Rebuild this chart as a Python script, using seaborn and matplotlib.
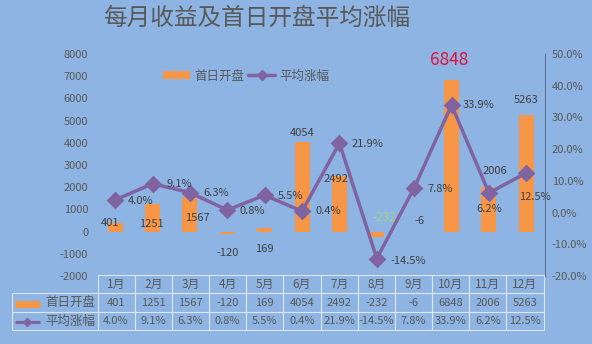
import matplotlib
matplotlib.use('Agg')
import matplotlib.pyplot as plt
import seaborn as sns
import pandas as pd
from matplotlib.lines import Line2D
from matplotlib.patches import Patch
from matplotlib.ticker import FuncFormatter, MultipleLocator

# ---------------- data ----------------
title = '每月收益及首日开盘平均涨幅'
months = ['1月', '2月', '3月', '4月', '5月', '6月', '7月', '8月', '9月', '10月', '11月', '12月']
first_day_open = [401, 1251, 1567, -120, 169, 4054, 2492, -232, -6, 6848, 2006, 5263]
avg_gain = [4.0, 9.1, 6.3, 0.8, 5.5, 0.4, 21.9, -14.5, 7.8, 33.9, 6.2, 12.5]
bar_name = '首日开盘'
line_name = '平均涨幅'

# label offsets (pixels) relative to each mark
bar_label_off = [(-5, 0), (-1, -20), (7, -21), (0, -19), (0, -21), (0, 9),
                 (-3, -3), (8, 19), (5, 11), (-2, 20), (6, 16), (0, 15)]
line_label_off = [(25, -1), (27, 0), (26, 0), (25, -1), (26, -1), (26, 0),
                  (28, -1), (31, -2), (26, -1), (27, 0), (0, -16), (9, -24)]

df = pd.DataFrame({'month': months, 'open': first_day_open, 'gain': avg_gain})

BG = '#8DB4E2'
ORANGE = '#F79646'
PURPLE = '#8064A2'
TXT = '#595959'
LBL = '#404040'
EDGE = '#DCE6F2'

sns.set_theme(style='white')
plt.rcParams['font.family'] = ['Noto Sans CJK SC', 'DejaVu Sans']
plt.rcParams['axes.unicode_minus'] = False

fig = plt.figure(figsize=(5.92, 3.44), dpi=100, facecolor=BG)
W, H = 592, 344
ax = fig.add_axes([96.5 / W, 1 - 276 / H, 448.5 / W, 222 / H])
ax.set_facecolor('none')

sns.barplot(data=df, x='month', y='open', color=ORANGE, width=0.4,
            saturation=1, errorbar=None, linewidth=0, ax=ax)
ax2 = ax.twinx()
sns.pointplot(data=df, x='month', y='gain', color=PURPLE, markers='D',
              linewidth=2.5, markersize=7, errorbar=None, ax=ax2)

ax.set_ylim(-2000, 8000)
ax2.set_ylim(-20, 50)
ax.set_xlim(-0.5, 11.5)
ax2.set_xlim(-0.5, 11.5)

ax.yaxis.set_major_locator(MultipleLocator(1000))
ax2.yaxis.set_major_locator(MultipleLocator(10))
ax2.yaxis.set_major_formatter(FuncFormatter(lambda v, p: f'{v:.1f}%'))
ax.tick_params(axis='y', length=0, pad=6, labelsize=8, labelcolor=TXT)
ax2.tick_params(axis='y', length=0, pad=5, labelsize=8, labelcolor=TXT)
ax.tick_params(axis='x', length=0, labelbottom=False)
ax2.tick_params(axis='x', length=0, labelbottom=False)
for a in (ax, ax2):
    a.set_xlabel('')
    a.set_ylabel('')
    a.grid(False)
    for s in a.spines.values():
        s.set_visible(False)
ax2.spines['right'].set_visible(True)
ax2.spines['right'].set_color('#5E7697')
ax2.spines['right'].set_linewidth(0.8)

# bar labels
for i, v in enumerate(first_day_open):
    kw = dict(fontsize=8, color=LBL)
    if v == max(first_day_open):
        kw = dict(fontsize=12.5, color='#E0103C')
    elif i == 7:
        kw = dict(fontsize=8.5, color='#A6DC6E', alpha=0.8)
    ax.annotate(str(v), (i, v), xytext=bar_label_off[i], textcoords='offset pixels',
                ha='center', va='center', **kw)

# line labels
for i, v in enumerate(avg_gain):
    ax2.annotate(f'{v:.1f}%', (i, v), xytext=line_label_off[i], textcoords='offset pixels',
                 ha='center', va='center', fontsize=8, color=LBL)

# data table (bbox covers the month columns; the row-label column sits to its left)
cell_text = [[str(v) for v in first_day_open],
             [f'{v:.1f}%' for v in avg_gain]]
tab = ax.table(cellText=cell_text, rowLabels=[bar_name, line_name], colLabels=months,
               colWidths=[1 / 12] * 12, cellLoc='center',
               rowLoc='right', colLoc='center',
               bbox=[(98 - 96.5) / 448.5, -0.245, (544 - 98) / 448.5, 0.25])
tab._autoColumns = []
tab.auto_set_font_size(False)
tab.set_fontsize(8)
for (r, j), c in tab.get_celld().items():
    c.set_facecolor('none')
    c.set_edgecolor(EDGE)
    c.set_linewidth(0.8)
    c.get_text().set_color(TXT)
    if r == 0:
        c.get_text().set_fontsize(8.5)
    if j == -1:
        c.set_width(86 / 446)
        c.PAD = 0.03
        c.get_text().set_fontsize(9)

# legend keys inside the table
kx = [(15 - 96.5) / 448.5, (40 - 96.5) / 448.5]
ax.add_line(Line2D(kx, [-(304 - 276) / 222] * 2, transform=ax.transAxes, color=ORANGE,
                   lw=5, clip_on=False, solid_capstyle='butt'))
ax.add_line(Line2D(kx, [-(322 - 276) / 222] * 2, transform=ax.transAxes, color=PURPLE,
                   lw=2.2, clip_on=False, solid_capstyle='butt'))
ax.add_line(Line2D([sum(kx) / 2], [-(322 - 276) / 222], transform=ax.transAxes,
                   color=PURPLE, marker='D', markersize=4, clip_on=False, lw=0))

# top legend
handles = [Patch(facecolor=ORANGE, edgecolor='none'),
           Line2D([0], [0], color=PURPLE, lw=2.5, marker='D', markersize=5)]
fig.legend(handles, [bar_name, line_name], loc='center', ncol=2, frameon=False,
           bbox_to_anchor=(246 / W, 1 - 76 / H), fontsize=9, labelcolor=TXT,
           handlelength=2.2, handleheight=0.55, handletextpad=0.3, columnspacing=0.3)

fig.text(257 / W, 1 - 18 / H, title, ha='center', va='center', fontsize=17, color=TXT)

fig.savefig('out.png', dpi=100, facecolor=BG)
